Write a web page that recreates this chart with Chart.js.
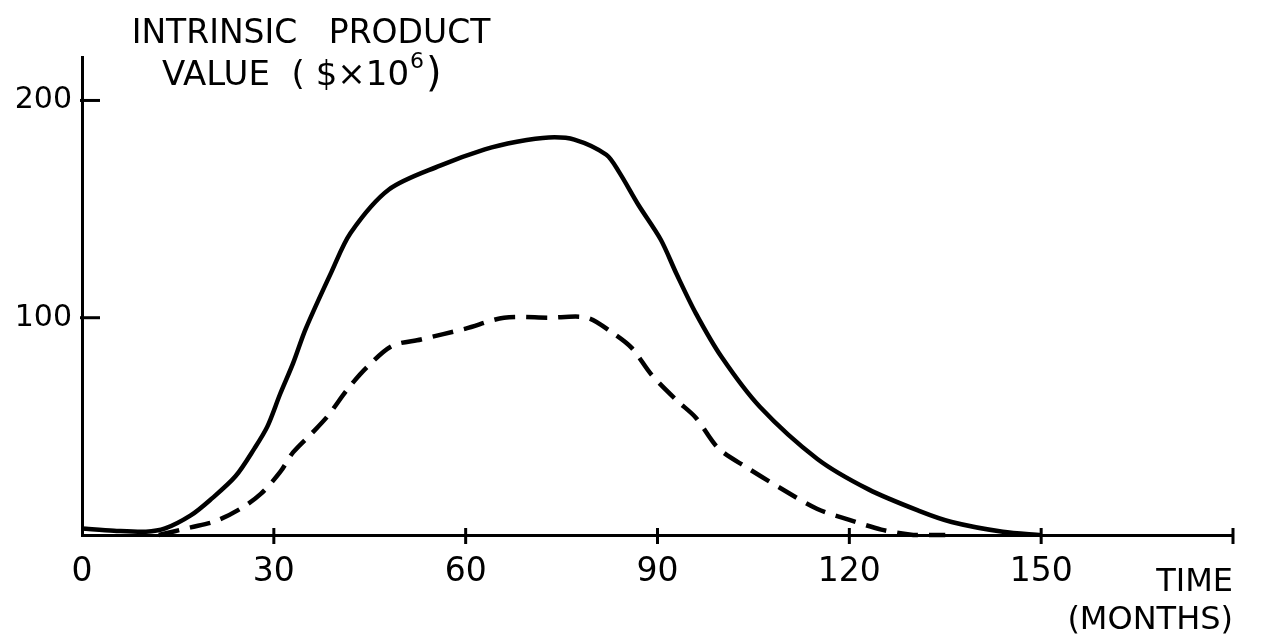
<!DOCTYPE html>
<html lang="en">
<head>
    <meta charset="UTF-8">
    <title>Intrinsic product value</title>
    <style>
        html, body {
            margin: 0;
            padding: 0;
            background: #fff;
        }
    </style>
</head>
<body>
    <canvas id="chart" width="1263" height="644"></canvas>

    <script src="https://cdn.jsdelivr.net/npm/chart.js@4.4.1/dist/chart.umd.min.js"></script>
    <script>
        // solid curve (months, $ x 10^6)
        const solidMonths = [0, 5, 10, 13, 17, 20, 24, 27, 29, 31, 33, 35, 39, 42, 48, 56, 63, 68, 73, 77, 82, 84, 87, 90.5, 93, 96, 100, 106, 115, 123, 131, 136, 144, 150];
        const solidValues = [3, 2, 1.5, 3, 9, 16, 27, 40, 50, 65, 79, 95, 121, 139, 159, 170, 177.5, 181, 183, 182, 175, 167, 152, 136, 120, 102, 82, 59, 35, 21, 11, 6, 1.5, 0];

        // dashed curve
        const dashedMonths = [12, 17, 21, 25, 28, 31, 33, 36, 38.5, 41.5, 44.5, 48.5, 53, 60, 66, 73, 79, 83, 86, 89, 93, 96, 99.5, 104, 109, 115, 120, 125, 130, 135];
        const dashedValues = [0, 3.5, 6.5, 12.5, 19, 29, 38, 47, 55, 67, 77, 87, 90, 95, 100, 100, 100, 93, 86, 74, 62, 54, 40, 31, 22, 12, 7, 2.5, 0, 0];

        // axes
        const xTicks = [0, 30, 60, 90, 120, 150, 180];
        const xTickLabels = ['0', '30', '60', '90', '120', '150', ''];
        const yTicks = [0, 100, 200];
        const yTickLabels = ['', '100', '200'];

        const hand = '"DejaVu Sans", sans-serif';

        const toPoints = (xs, ys) => xs.map((m, i) => ({ x: m, y: ys[i] }));

        // little tick marks across the axes, like the pen strokes
        const tickMarks = {
            id: 'tickMarks',
            afterDraw(chart) {
                const { ctx, scales: { x, y } } = chart;
                ctx.save();
                ctx.strokeStyle = '#000';
                ctx.lineWidth = 3;
                xTicks.forEach(v => {
                    if (v === 0) return;
                    const px = x.getPixelForValue(v);
                    ctx.beginPath();
                    ctx.moveTo(px, y.bottom - 7);
                    ctx.lineTo(px, y.bottom + 9);
                    ctx.stroke();
                });
                yTicks.forEach(v => {
                    if (v === 0) return;
                    const py = y.getPixelForValue(v);
                    ctx.beginPath();
                    ctx.moveTo(x.left - 2, py);
                    ctx.lineTo(x.left + 18, py);
                    ctx.stroke();
                });
                ctx.restore();
            }
        };

        // y axis caption written at the top, right of the axis
        const yCaption = {
            id: 'yCaption',
            afterDraw(chart) {
                const { ctx, chartArea } = chart;
                ctx.save();
                ctx.fillStyle = '#000';
                ctx.textBaseline = 'middle';
                ctx.textAlign = 'center';
                ctx.font = '33px ' + hand;
                ctx.fillText('INTRINSIC   PRODUCT', chartArea.left + 229, 34);
                // second line: "VALUE ($×10" plus a raised 6 and ")"
                const left = chartArea.left + 80;
                ctx.textAlign = 'left';
                ctx.font = '34px ' + hand;
                const main = 'VALUE  ( $\u00d710';
                ctx.fillText(main, left, 76);
                let w = ctx.measureText(main).width;
                ctx.font = '22px ' + hand;
                ctx.fillText('6', left + w + 1, 62);
                w += ctx.measureText('6').width + 3;
                ctx.font = '40px ' + hand;
                ctx.fillText(')', left + w, 76);
                ctx.restore();
            }
        };

        new Chart(document.getElementById('chart'), {
            type: 'line',
            data: {
                datasets: [{
                    label: 'solid',
                    data: toPoints(solidMonths, solidValues),
                    borderColor: '#000',
                    borderWidth: 4.5,
                    pointRadius: 0,
                    tension: 0.3,
                    clip: false,
                }, {
                    label: 'dashed',
                    data: toPoints(dashedMonths, dashedValues),
                    borderColor: '#000',
                    borderWidth: 4.5,
                    borderDash: [21, 11],
                    pointRadius: 0,
                    tension: 0.3,
                    clip: false,
                }]
            },
            options: {
                responsive: false,
                animation: false,
                layout: { padding: { top: 57, right: 30, left: 0, bottom: 0 } },
                plugins: {
                    legend: { display: false },
                    tooltip: { enabled: false },
                },
                scales: {
                    x: {
                        type: 'linear',
                        min: 0,
                        max: 180,
                        afterBuildTicks: s => { s.ticks = xTicks.map(v => ({ value: v })); },
                        afterFit: s => { s.height = 109; },
                        grid: { display: false, drawTicks: false },
                        border: { display: true, color: '#000', width: 3 },
                        ticks: {
                            color: '#000',
                            font: { family: hand, size: 33 },
                            padding: 18,
                            maxRotation: 0,
                            autoSkip: false,
                            callback: (v) => xTickLabels[xTicks.indexOf(v)],
                        },
                        title: {
                            display: true,
                            text: ['TIME', '(MONTHS)'],
                            align: 'end',
                            color: '#000',
                            font: { family: hand, size: 32 },
                            padding: { top: 0, bottom: 4 },
                        },
                    },
                    y: {
                        type: 'linear',
                        min: 0,
                        max: 220,
                        afterBuildTicks: s => { s.ticks = yTicks.map(v => ({ value: v })); },
                        afterFit: s => { s.width = 82; },
                        grid: { display: false, drawTicks: false },
                        border: { display: true, color: '#000', width: 3 },
                        ticks: {
                            color: '#000',
                            font: { family: hand, size: 30 },
                            padding: 10,
                            callback: (v) => yTickLabels[yTicks.indexOf(v)],
                        },
                    },
                },
            },
            plugins: [tickMarks, yCaption],
        });
    </script>
</body>
</html>
